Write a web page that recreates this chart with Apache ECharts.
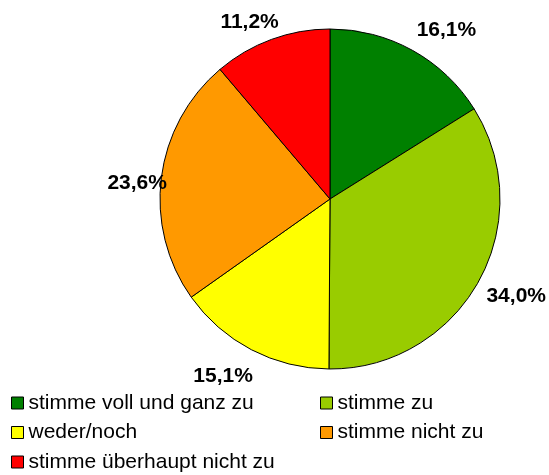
<!DOCTYPE html>
<html><head><meta charset="utf-8">
<script src="https://cdn.jsdelivr.net/npm/echarts@6/dist/echarts.min.js"></script>
<style>html,body{margin:0;padding:0;background:#fff}#c{width:549px;height:475px}</style>
</head><body><div id="c"></div>
<script>
const categories = ['stimme voll und ganz zu','stimme zu','weder/noch','stimme nicht zu','stimme überhaupt nicht zu'];
const values = [16.1, 34.0, 15.1, 23.6, 11.2];
const colors = ['#008000','#99CC00','#FFFF00','#FF9900','#FF0000'];

// small label nudges (px) to mimic the original placement
const labelNudge = [[-6.5,-10],[-7.5,9],[12,15.5],[22.5,7],[16.5,-5.5]];

const chart = echarts.init(document.getElementById('c'), null, {renderer:'canvas'});
const legendBase = {
  orient:'vertical', icon:'rect', itemWidth:12, itemHeight:12, itemGap:7.5,
  padding:0, height:90,
  textStyle:{fontFamily:'Liberation Sans, Arial', fontSize:21, lineHeight:22, color:'#000'},
  itemStyle:{borderColor:'#000', borderWidth:1},
  selectedMode:false
};
chart.setOption({
  animation:false,
  color: colors,
  legend:[
    Object.assign({}, legendBase, {left:11, top:392, data:[categories[0],categories[2],categories[4]]}),
    Object.assign({}, legendBase, {left:320, top:392, data:[categories[1],categories[3]]})
  ],
  series:[{
    type:'pie',
    center:[330,199],
    radius:170,
    startAngle:90,
    clockwise:true,
    avoidLabelOverlap:false,
    itemStyle:{borderColor:'#000', borderWidth:1},
    label:{
      show:true, position:'outside',
      formatter:(p)=>p.value.toFixed(1).replace('.',',')+'%',
      fontFamily:'Liberation Sans, Arial', fontSize:21, fontWeight:'bold', color:'#000'
    },
    labelLine:{show:false, length:12, length2:0},
    labelLayout:(p)=>({dx:labelNudge[p.dataIndex][0], dy:labelNudge[p.dataIndex][1]}),
    emphasis:{disabled:true},
    data: categories.map((n,i)=>({name:n, value:values[i]}))
  }]
});
</script></body></html>
